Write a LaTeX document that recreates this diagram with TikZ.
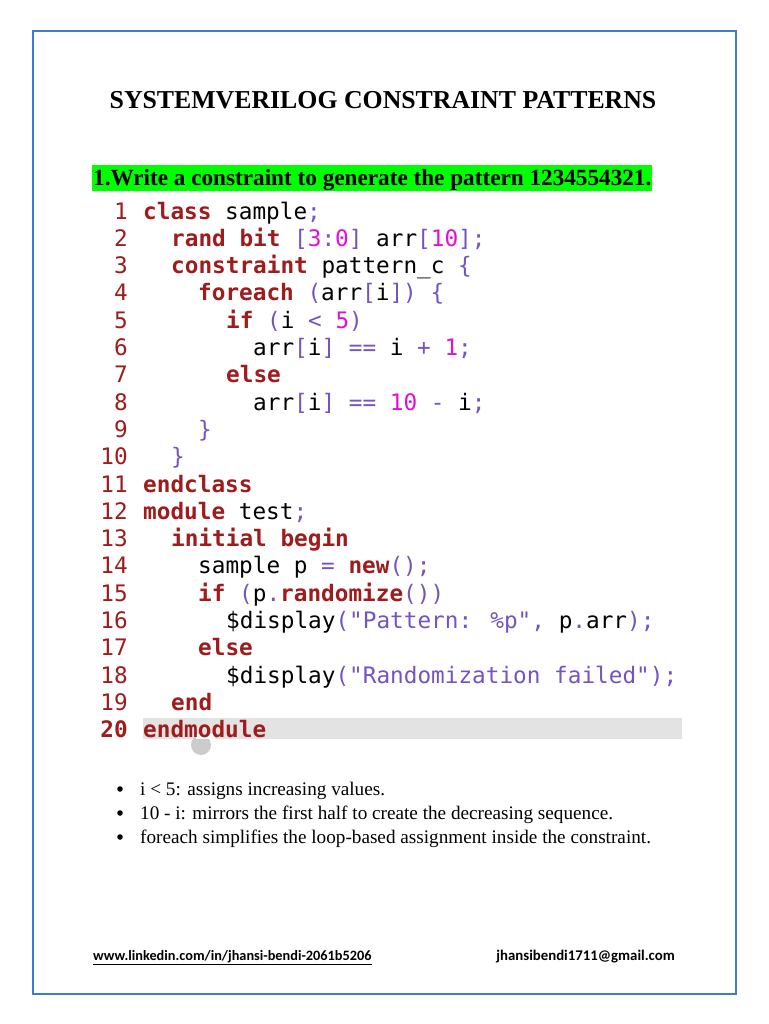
\documentclass[tikz,border=0pt]{standalone}
\usepackage{fontspec}
\setmainfont{Liberation Serif}
\newfontfamily\codefont{DejaVu Sans Mono}
\newfontfamily\footfont{Carlito}
\definecolor{kwc}{HTML}{9E1C1C}
\definecolor{puc}{HTML}{7453C2}
\definecolor{nmc}{HTML}{E010D8}
\definecolor{frame}{HTML}{3D7CC9}
\definecolor{hl}{HTML}{00FF00}
\newcommand{\kw}[1]{{\bfseries\color{kwc}#1}}
\newcommand{\pu}[1]{{\color{puc}#1}}
\newcommand{\nm}[1]{{\color{nmc}#1}}
\tikzset{codeline/.style={anchor=base west,inner sep=0,font=\codefont\fontsize{22.7}{24}\selectfont},
lnum/.style={anchor=base east,inner sep=0,text=kwc,font=\codefont\fontsize{22.7}{24}\selectfont},
bul/.style={anchor=base west,inner sep=0,font=\fontsize{19.2}{22}\selectfont}}
\begin{document}
\begin{tikzpicture}[x=1pt,y=-1pt]
\useasboundingbox (0,0) rectangle (768,1024);
\fill[white] (0,0) rectangle (768,1024);
\draw[frame,line width=1.5pt] (33,31) rectangle (736,994);
\node[anchor=base,inner sep=0,font=\bfseries\fontsize{25.8}{28}\selectfont] (title) at (383,109) {SYSTEMVERILOG CONSTRAINT PATTERNS};
\fill[hl] (92,165) rectangle (652,191);
\node[anchor=base west,inner sep=0,font=\bfseries\fontsize{23.2}{26}\selectfont] (q) at (93,186) {1.Write a constraint to generate the pattern 1234554321.};
\fill[black!11] (143,718) rectangle (682,739);
\fill[black!20] (201,745) circle (10);
\fill[white] (196,734) rectangle (215,739);
\foreach \n in {1,...,20} {
  \node[lnum] (n\n) at (128,{219+(\n-1)*27.3}) {\ifnum\n=20 \bfseries\fi\n};
}
\def\ly#1{{219+(#1-1)*27.3}}
\node[codeline] (c1) at (143,\ly1) {\kw{class} sample\pu{;}};
\node[codeline] (c2) at (171,\ly2) {\kw{rand bit} \pu{[}\nm{3}\pu{:}\nm{0}\pu{]} arr\pu{[}\nm{10}\pu{];}};
\node[codeline] (c3) at (171,\ly3) {\kw{constraint} pattern\_c \pu{\{}};
\node[codeline] (c4) at (198,\ly4) {\kw{foreach} \pu{(}arr\pu{[}i\pu{])} \pu{\{}};
\node[codeline] (c5) at (226,\ly5) {\kw{if} \pu{(}i \pu{<} \nm{5}\pu{)}};
\node[codeline] (c6) at (253,\ly6) {arr\pu{[}i\pu{]} \pu{==} i \pu{+} \nm{1}\pu{;}};
\node[codeline] (c7) at (226,\ly7) {\kw{else}};
\node[codeline] (c8) at (253,\ly8) {arr\pu{[}i\pu{]} \pu{==} \nm{10} \pu{-} i\pu{;}};
\node[codeline] (c9) at (198,\ly9) {\pu{\}}};
\node[codeline] (c10) at (171,\ly{10}) {\pu{\}}};
\node[codeline] (c11) at (143,\ly{11}) {\kw{endclass}};
\node[codeline] (c12) at (143,\ly{12}) {\kw{module} test\pu{;}};
\node[codeline] (c13) at (171,\ly{13}) {\kw{initial begin}};
\node[codeline] (c14) at (198,\ly{14}) {sample p \pu{=} \kw{new}\pu{();}};
\node[codeline] (c15) at (198,\ly{15}) {\kw{if} \pu{(}p\pu{.}\kw{randomize}\pu{())}};
\node[codeline] (c16) at (226,\ly{16}) {\$display\pu{("Pattern: \%p",} p\pu{.}arr\pu{);}};
\node[codeline] (c17) at (198,\ly{17}) {\kw{else}};
\node[codeline] (c18) at (226,\ly{18}) {\$display\pu{("Randomization failed");}};
\node[codeline] (c19) at (171,\ly{19}) {\kw{end}};
\node[codeline] (c20) at (143,\ly{20}) {\kw{endmodule}};
\foreach \y/\t [count=\k] in {795/{i < 5: assigns increasing values.},819/{10 - i: mirrors the first half to create the decreasing sequence.},843/{foreach simplifies the loop-based assignment inside the constraint.}} {
  \fill (120,\y-6) circle (2.8);
  \node[bul] (b\k) at (140,\y) {\t};
}
\node[anchor=base west,inner sep=0,font=\footfont\bfseries\fontsize{14.3}{16}\selectfont] (l) at (93,960) {\underline{www.linkedin.com/in/jhansi-bendi-2061b5206}};
\node[anchor=base east,inner sep=0,font=\footfont\bfseries\fontsize{14.8}{16}\selectfont] (m) at (675,960) {jhansibendi1711@gmail.com};
\end{tikzpicture}
\end{document}
